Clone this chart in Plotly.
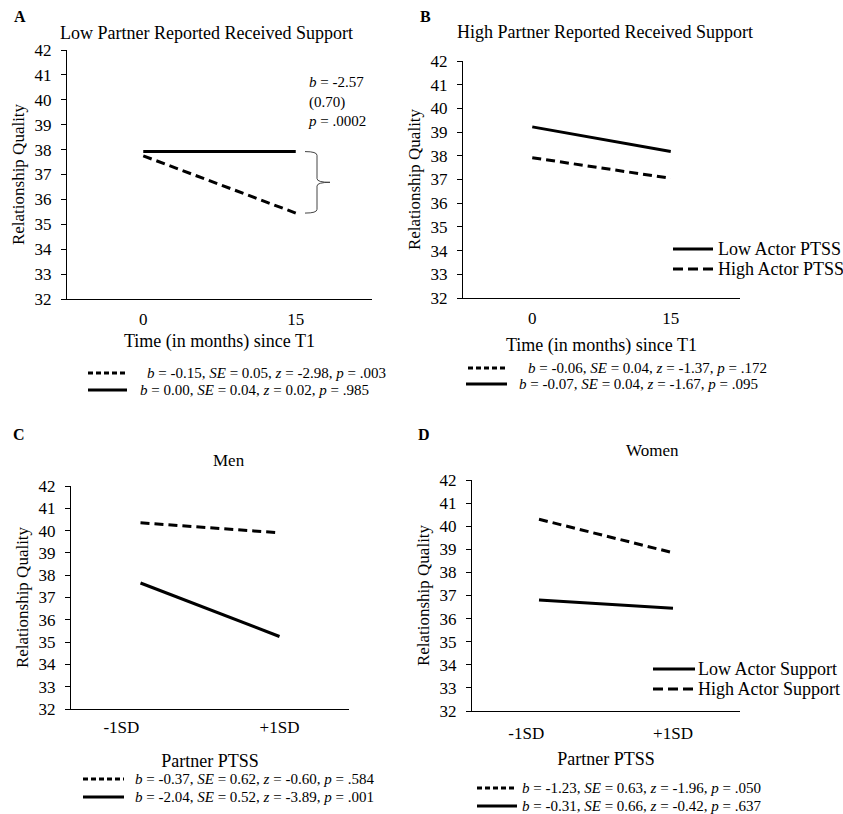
import plotly.graph_objects as go

W, H = 843, 814
FONT = "Liberation Serif"

# ---------------- data ----------------
time_labels = ["0", "15"]
ptss_labels = ["-1SD", "+1SD"]

a_low_ptss = [37.92, 37.92]     # solid
a_high_ptss = [37.75, 35.45]    # dashed
b_low_ptss = [39.22, 38.18]     # solid
b_high_ptss = [37.92, 37.05]    # dashed
c_low_support = [37.65, 35.25]  # solid
c_high_support = [40.35, 39.90] # dashed
d_low_support = [36.80, 36.45]  # solid
d_high_support = [40.30, 38.85]  # dashed

y_range = [32, 42]

# simple-slope statistics (b, SE, z, p): dashed first, solid second
a_stats = [("-0.15", "0.05", "-2.98", ".003"), ("0.00", "0.04", "0.02", ".985")]
b_stats = [("-0.06", "0.04", "-1.37", ".172"), ("-0.07", "0.04", "-1.67", ".095")]
c_stats = [("-0.37", "0.62", "-0.60", ".584"), ("-2.04", "0.52", "-3.89", ".001")]
d_stats = [("-1.23", "0.63", "-1.96", ".050"), ("-0.31", "0.66", "-0.42", ".637")]

a_diff = ("-2.57", "0.70", ".0002")

# ---------------- figure ----------------
fig = go.Figure()


def F(size):
    return dict(family=FONT, size=size, color="black")


def px_x(v):
    return v / W


def px_y(v):
    return 1 - v / H


panels = {
    # name: (x0, x1, ytop, ybottom) in pixels
    "A": (67, 372, 50, 299),
    "B": (463, 740, 61, 298),
    "C": (71, 349, 486, 709),
    "D": (472, 740, 480, 711),
}
axis_ids = {"A": "", "B": "2", "C": "3", "D": "4"}


def add_line(panel, xcats, yvals, dash, name):
    aid = axis_ids[panel]
    fig.add_trace(go.Scatter(
        x=xcats, y=yvals, mode="lines",
        line=dict(color="black", width=3, dash=dash),
        xaxis="x" + aid, yaxis="y" + aid,
        name=name, showlegend=False, hoverinfo="skip",
    ))


DASH = "9px,5px"
add_line("A", time_labels, a_low_ptss, "solid", "Low Actor PTSS")
add_line("A", time_labels, a_high_ptss, DASH, "High Actor PTSS")
add_line("B", time_labels, b_low_ptss, "solid", "Low Actor PTSS")
add_line("B", time_labels, b_high_ptss, DASH, "High Actor PTSS")
add_line("C", ptss_labels, c_high_support, DASH, "High Actor Support")
add_line("C", ptss_labels, c_low_support, "solid", "Low Actor Support")
add_line("D", ptss_labels, d_low_support, "solid", "Low Actor Support")
add_line("D", ptss_labels, d_high_support, DASH, "High Actor Support")

layout = dict(
    width=W, height=H,
    margin=dict(l=0, r=0, t=0, b=0, autoexpand=False),
    paper_bgcolor="white", plot_bgcolor="white",
    font=F(16),
    showlegend=False,
)

xtitles = {"A": ("Time (in months) since T1", 5), "B": ("Time (in months) since T1", 10),
           "C": ("Partner PTSS", 17), "D": ("Partner PTSS", 9)}
ticktexts = {"A": time_labels, "B": time_labels,
             "C": ["-1SD" + "\u00a0" * 9, "+1SD"], "D": ["-1SD" + "\u00a0" * 6, "+1SD"]}
xstandoff = {"A": 5, "B": 5, "C": 3, "D": 7}

for p, (x0, x1, yt, yb) in panels.items():
    aid = axis_ids[p]
    cats = time_labels if p in "AB" else ptss_labels
    layout["xaxis" + aid] = dict(
        domain=[px_x(x0), px_x(x1)], anchor="y" + aid,
        type="category", range=[-0.5, 1.5],
        categoryorder="array", categoryarray=cats,
        tickmode="array", tickvals=cats, ticktext=ticktexts[p],
        showline=True, linecolor="black", linewidth=1,
        ticks="", showgrid=False, zeroline=False, automargin=False,
        tickfont=F(17), ticklabelstandoff=xstandoff[p],
        title=dict(text=xtitles[p][0], font=F(18), standoff=xtitles[p][1]),
        fixedrange=True,
    )
    layout["yaxis" + aid] = dict(
        domain=[px_y(yb), px_y(yt)], anchor="x" + aid,
        range=y_range, dtick=1, tick0=32,
        showline=True, linecolor="black", linewidth=1,
        ticks="outside", ticklen=5, tickcolor="black",
        showgrid=False, zeroline=False, automargin=False,
        tickfont=F(17), ticklabelstandoff=6,
        title=dict(text="Relationship Quality", font=F(17), standoff=5),
        fixedrange=True,
    )

fig.update_layout(**layout)

annotations = []
shapes = []

# panel letters
for letter, (x, y) in {"A": (20, 17), "B": (425, 17), "C": (19, 435), "D": (424, 435)}.items():
    annotations.append(dict(text="<b>%s</b>" % letter, x=px_x(x), y=px_y(y), xref="paper", yref="paper",
                            showarrow=False, xanchor="center", yanchor="middle", font=F(16)))

# panel titles
titles = [
    ("Low Partner Reported Received Support", 206, 33, 18),
    ("High Partner Reported Received Support", 605, 32, 18),
    ("Men", 229, 460, 17),
    ("Women", 652, 450, 17),
]
for t, x, y, s in titles:
    annotations.append(dict(text=t, x=px_x(x), y=px_y(y), xref="paper", yref="paper",
                            showarrow=False, xanchor="center", yanchor="middle", font=F(s)))

# in-plot legends (B and D)
legend_rows = [
    ("Low Actor PTSS", "solid", 673, 713, 249, 716),
    ("High Actor PTSS", "10px,5px", 673, 713, 269, 716),
    ("Low Actor Support", "solid", 653, 695, 669, 696),
    ("High Actor Support", "10px,5px", 653, 695, 689, 696),
]
for name, dash, sx0, sx1, sy, tx in legend_rows:
    shapes.append(dict(type="line", xref="paper", yref="paper",
                       x0=px_x(sx0), x1=px_x(sx1), y0=px_y(sy), y1=px_y(sy),
                       line=dict(color="black", width=3, dash=dash)))
    annotations.append(dict(text=name, x=px_x(tx), y=px_y(sy), xref="paper", yref="paper",
                            showarrow=False, xanchor="left", yanchor="middle", font=F(18)))


# statistics rows with line samples
def fmt(st):
    b, se, z, p = st
    return "<i>b</i> = %s, <i>SE</i> = %s, <i>z</i> = %s, <i>p</i> = %s" % (b, se, z, p)


stat_rows = [
    # stats, dash, sample x0, x1, y, text x
    (a_stats[0], "5px,3px", 88, 127, 373, 145),
    (a_stats[1], "solid", 88, 127, 390, 138),
    (b_stats[0], "5px,3px", 468, 507, 368, 526),
    (b_stats[1], "solid", 466, 507, 384, 517),
    (c_stats[0], "5px,3px", 83, 124, 779, 133),
    (c_stats[1], "solid", 83, 124, 797, 133),
    (d_stats[0], "5px,3px", 477, 517, 788, 520),
    (d_stats[1], "solid", 477, 517, 806, 520),
]
for st, dash, sx0, sx1, sy, tx in stat_rows:
    shapes.append(dict(type="line", xref="paper", yref="paper",
                       x0=px_x(sx0), x1=px_x(sx1), y0=px_y(sy), y1=px_y(sy),
                       line=dict(color="black", width=3, dash=dash)))
    annotations.append(dict(text=fmt(st), x=px_x(tx), y=px_y(sy), xref="paper", yref="paper",
                            showarrow=False, xanchor="left", yanchor="middle", font=F(15)))

# panel A difference annotation and brace
annotations.append(dict(
    text="<i>b</i> = %s<br>(%s)<br><i>p</i> = %s" % a_diff,
    x=px_x(306), y=px_y(72), xref="paper", yref="paper", showarrow=False,
    xanchor="left", yanchor="top", align="left", font=F(15)))

top_v, bot_v = a_low_ptss[1], a_high_ptss[1]
mid_v = (top_v + bot_v) / 2
xa, xb, xc = px_x(305), px_x(317), px_x(330)
d = 0.15
brace = ("M {xa},{t} Q {xb},{t} {xb},{t2} L {xb},{m1} Q {xb},{m} {xc},{m} "
         "Q {xb},{m} {xb},{m2} L {xb},{b2} Q {xb},{b} {xa},{b}").format(
    xa=xa, xb=xb, xc=xc, t=top_v, t2=top_v - d, m1=mid_v + d, m=mid_v, m2=mid_v - d,
    b2=bot_v + d, b=bot_v)
shapes.append(dict(type="path", xref="paper", yref="y", path=brace,
                   line=dict(color="#444", width=1)))

fig.update_layout(annotations=annotations, shapes=shapes)

fig.write_html("out.html",
               config={"displayModeBar": False},
               post_script="document.body.style.margin='0';document.body.style.overflow='hidden';")
